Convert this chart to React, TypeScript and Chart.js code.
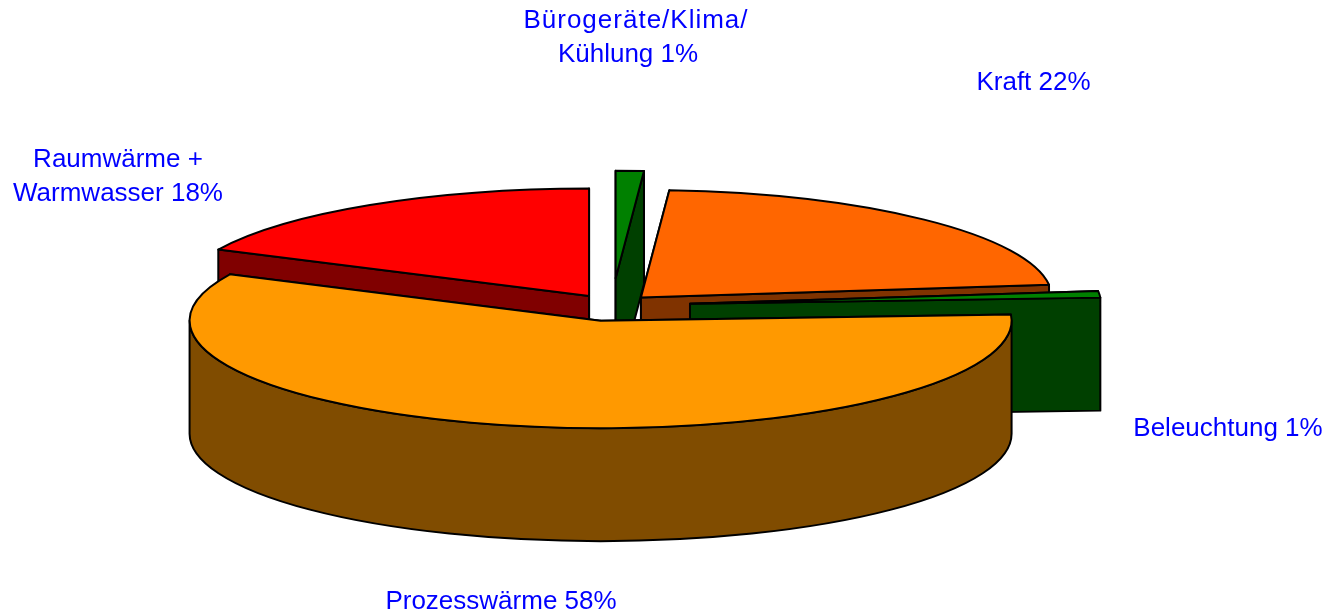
import React, { useEffect, useRef } from "react";
import { Chart, registerables } from "chart.js";

Chart.register(...registerables);

// ---- data ----
const categories = ["Bürogeräte/Klima/Kühlung", "Kraft", "Beleuchtung", "Prozesswärme", "Raumwärme + Warmwasser"];
const shares = [1.1, 22, 1, 58, 17.9];
const sliceLabels = [
  ["Bürogeräte/Klima/", "Kühlung 1%"],
  ["Kraft 22%"],
  ["Beleuchtung 1%"],
  ["Prozesswärme 58%"],
  ["Raumwärme +", "Warmwasser 18%"],
];

// ---- styling ----
const topColors = ["#008000", "#FF6600", "#008000", "#FF9900", "#FF0000"];
const sideColors = ["#004000", "#803300", "#004000", "#804C00", "#800000"];
const explode = [104.6, 42, 78.3, 59, 43];
const paintOrder = [0, 1, 4, 2, 3];
const labelAnchors = [
  [[636, 21], [628, 55]],
  [[1033.5, 83]],
  [[1228, 429]],
  [[501, 602]],
  [[118, 160], [118, 194]],
];
const labelSpacing = [["1px", "0px"], ["0px"], ["0px"], ["0px"], ["0px", "0px"]];
const TILT = 107.5 / 411;
const DEPTH = 113;
const RADIUS = 411;

const pie3d = {
  id: "pie3d",
  beforeDatasetsDraw(chart: any) {
    const ctx = chart.ctx;
    const arcs = chart.getDatasetMeta(0).data;
    ctx.save();
    ctx.lineWidth = 2;
    ctx.strokeStyle = "#000";
    ctx.lineJoin = "round";
    for (const i of paintOrder) {
      const a = arcs[i];
      const { x, y, startAngle, endAngle, outerRadius } = a.getProps(["x", "y", "startAngle", "endAngle", "outerRadius"], true);
      const mid = (startAngle + endAngle) / 2;
      const off = a.options.offset || 0;
      const cx = x + Math.cos(mid) * off;
      const cy = y + Math.sin(mid) * off * TILT;
      const rx = outerRadius;
      const ry = outerRadius * TILT;
      const side = sideColors[i];
      const paint = (fill: string) => {
        ctx.fillStyle = fill;
        ctx.fill();
        ctx.stroke();
      };
      // flat cut faces
      for (const ang of [startAngle, endAngle]) {
        const px = cx + rx * Math.cos(ang);
        const py = cy + ry * Math.sin(ang);
        ctx.beginPath();
        ctx.moveTo(cx, cy);
        ctx.lineTo(px, py);
        ctx.lineTo(px, py + DEPTH);
        ctx.lineTo(cx, cy + DEPTH);
        ctx.closePath();
        paint(side);
      }
      // curved wall, front half only
      const a0 = Math.max(startAngle, 0);
      const a1 = Math.min(endAngle, Math.PI);
      if (a1 > a0) {
        ctx.beginPath();
        ctx.ellipse(cx, cy, rx, ry, 0, a0, a1);
        ctx.ellipse(cx, cy + DEPTH, rx, ry, 0, a1, a0, true);
        ctx.closePath();
        paint(side);
      }
      // top face
      ctx.beginPath();
      ctx.moveTo(cx, cy);
      ctx.ellipse(cx, cy, rx, ry, 0, startAngle, endAngle);
      ctx.closePath();
      paint(a.options.backgroundColor);
    }
    ctx.restore();
    return false;
  },
  afterDraw(chart: any) {
    const ctx = chart.ctx;
    ctx.save();
    ctx.font = '26px "Liberation Sans", Arial, sans-serif';
    ctx.fillStyle = "#0000FF";
    ctx.textAlign = "center";
    ctx.textBaseline = "middle";
    sliceLabels.forEach((lines, i) => {
      lines.forEach((line, j) => {
        const [lx, ly] = labelAnchors[i][j];
        ctx.letterSpacing = labelSpacing[i][j];
        ctx.fillText(line, lx, ly);
      });
    });
    ctx.restore();
  },
};

export default function App() {
  const ref = useRef<HTMLCanvasElement | null>(null);
  useEffect(() => {
    document.body.style.margin = "0";
    document.body.style.background = "#fff";
    const chart = new Chart(ref.current as HTMLCanvasElement, {
      type: "pie",
      data: {
        labels: categories,
        datasets: [
          {
            data: shares,
            backgroundColor: topColors,
            borderColor: "#000",
            borderWidth: 0,
            offset: explode,
          },
        ],
      },
      options: {
        responsive: false,
        animation: false,
        events: [],
        radius: RADIUS,
        layout: { padding: { right: 104, bottom: 3 } },
        plugins: { legend: { display: false }, tooltip: { enabled: false } },
      } as any,
      plugins: [pie3d],
    });
    return () => chart.destroy();
  }, []);
  return (
    <div style={{ width: 1328, height: 614 }}>
      <canvas ref={ref} width={1328} height={614} style={{ display: "block" }} />
    </div>
  );
}
